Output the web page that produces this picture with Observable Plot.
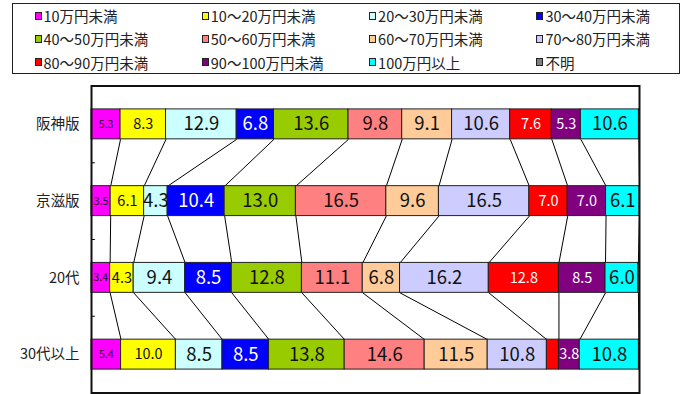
<!DOCTYPE html>
<html><head><meta charset="utf-8">
<script src="https://cdn.jsdelivr.net/npm/d3@7"></script>
<script src="https://cdn.jsdelivr.net/npm/@observablehq/plot@0.6"></script>
<style>
body{margin:0;background:#fff;}
#wrap{position:relative;width:688px;height:394px;font-family:"Noto Sans CJK JP",sans-serif;}
#legend{position:absolute;left:12px;top:3px;width:668px;height:71px;box-sizing:border-box;border:1.5px solid #222;display:grid;grid-template-columns:repeat(4,167.3px);grid-auto-rows:23.3px;padding-left:21.5px;background:#fff;}
.item{display:flex;align-items:center;font-size:14.5px;color:#222;white-space:nowrap;}
.sw{width:5px;height:6px;border:1px solid #222;margin-right:2px;flex:none;}
#chart{position:absolute;left:0;top:0;}
</style></head>
<body>
<div id="wrap"><div id="chart"></div><div id="legend"></div></div>
<script>
const categories = ["阪神版", "京滋版", "20代", "30代以上"];
const seriesNames = ["10万円未満", "10～20万円未満", "20～30万円未満", "30～40万円未満",
  "40～50万円未満", "50～60万円未満", "60～70万円未満", "70～80万円未満",
  "80～90万円未満", "90～100万円未満", "100万円以上", "不明"];
const hanshin = [5.3, 8.3, 12.9, 6.8, 13.6, 9.8, 9.1, 10.6, 7.6, 5.3, 10.6, 0.1];
const keiji   = [3.5, 6.1, 4.3, 10.4, 13.0, 16.5, 9.6, 16.5, 7.0, 7.0, 6.1, 0.0];
const age20   = [3.4, 4.3, 9.4, 8.5, 12.8, 11.1, 6.8, 16.2, 12.8, 8.5, 6.0, 0.2];
const age30   = [5.4, 10.0, 8.5, 8.5, 13.8, 14.6, 11.5, 10.8, 2.2, 3.8, 10.8, 0.1];

// styles
const colors = ["#FF00FF", "#FFFF00", "#CCFFFF", "#0000FF", "#99CC00", "#FF8080",
  "#FFCC99", "#CCCCFF", "#FF0000", "#800080", "#00FFFF", "#808080"];
const whiteText = new Set([3, 8, 9]);
const labelSize = j => j === 0 ? 10.5 : (j === 1 || j === 8 || j === 9) ? 14.5 : 18.5;
const half = 0.195;

const rowsData = [hanshin, keiji, age20, age30];
const table = [];
const links = [];
rowsData.forEach((vals, i) => {
  let c = 0;
  vals.forEach((v, j) => {
    table.push({row: i, series: j, name: seriesNames[j], value: v, x1: c, x2: c + v});
    c += v;
  });
});
for (let i = 0; i < rowsData.length - 1; i++) {
  for (let k = 1; k < seriesNames.length; k++) {
    const a = d3.sum(rowsData[i].slice(0, k));
    const b = d3.sum(rowsData[i + 1].slice(0, k));
    links.push({x1: a, y1: i + half, x2: b, y2: i + 1 - half});
  }
}
const labels = table.filter(d => d.value >= 3 && d.series < 11);

const chart = Plot.plot({
  width: 688, height: 394,
  marginLeft: 91, marginRight: 49, marginTop: 85.5, marginBottom: 1.5,
  style: {fontFamily: '"Noto Sans CJK JP", sans-serif', background: "transparent"},
  x: {domain: [0, 100], axis: null},
  y: {domain: [-0.5, 3.5], reverse: true, axis: null},
  color: {domain: seriesNames, range: colors},
  marks: [
    Plot.link(links, {x1: "x1", y1: "y1", x2: "x2", y2: "y2", stroke: "#000", strokeWidth: 1}),
    Plot.rectX(table, {x1: "x1", x2: "x2", y1: d => d.row - half, y2: d => d.row + half,
      fill: "name", stroke: "#222", strokeWidth: 1}),
    Plot.text(labels.filter(d => !whiteText.has(d.series)), {x: d => (d.x1 + d.x2) / 2, y: "row",
      text: d => d.value.toFixed(1), fill: "#111", fontSize: d => labelSize(d.series)}),
    Plot.text(labels.filter(d => whiteText.has(d.series)), {x: d => (d.x1 + d.x2) / 2, y: "row",
      text: d => d.value.toFixed(1), fill: "#fff", fontSize: d => labelSize(d.series)}),
    Plot.ruleY([0.5, 1.5, 2.5], {x1: 0, x2: 0.7, stroke: "#000"}),
    Plot.axisY([0, 1, 2, 3], {anchor: "left", tickSize: 0, tickPadding: 12, fontSize: 14.5,
      tickFormat: i => categories[i], fill: "#222"}),
    Plot.frame({stroke: "#111", strokeWidth: 2})
  ]
});
document.getElementById("chart").appendChild(chart);

const legend = d3.select("#legend");
seriesNames.forEach((n, j) => {
  const it = legend.append("div").attr("class", "item");
  it.append("div").attr("class", "sw").style("background", colors[j]);
  it.append("span").text(n);
});
</script>
</body></html>
